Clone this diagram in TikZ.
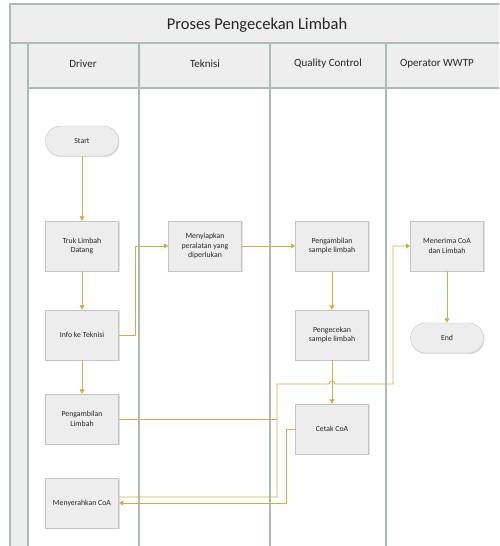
\documentclass[tikz,border=0pt]{standalone}
\usepackage{fontspec}
\setmainfont{Carlito}
\usetikzlibrary{arrows.meta,shadows}
\definecolor{laneline}{HTML}{AEB8B8}
\definecolor{lanefill}{HTML}{EEEEEE}
\definecolor{flowline}{HTML}{CFAE4B}
\definecolor{boxfill}{HTML}{EDEDED}
\definecolor{boxline}{HTML}{C4C4C4}

\begin{document}
\begin{tikzpicture}[x=1pt,y=-1pt,
	proc/.style={draw=boxline,fill=boxfill,minimum width=73pt,minimum height=50pt,inner sep=2pt,
		align=center,font=\fontsize{7.8}{9.5}\selectfont,text=black!85,
		drop shadow={shadow xshift=1pt,shadow yshift=-1.2pt,fill=black!25}},
	term/.style={proc,minimum height=30pt,rounded corners=15pt},
	flow/.style={draw=flowline,line width=0.8pt,-{Triangle[width=5pt,length=4.5pt]}},
	link/.style={draw=flowline,line width=0.8pt},
	lane/.style={draw=laneline,line width=1.1pt},
	head/.style={font=\fontsize{11}{13}\selectfont,text=black!85}]
\useasboundingbox (0,0) rectangle (499,546);
\clip (0,0) rectangle (499,546);

\fill[lanefill] (10,4) rectangle (520,88);
\fill[lanefill] (10,43) rectangle (28,560);
\draw[lane] (10,560) -- (10,4) -- (520,4);
\draw[lane] (10,43) -- (520,43);
\draw[lane] (28,88) -- (520,88);
\foreach \x in {28,139,270,386}
	\draw[lane] (\x,43) -- (\x,560);

\path (257,25) node[head,font=\fontsize{16.5}{18}\selectfont] (title) {Proses Pengecekan Limbah}
		(83,64) node[head] (driver) {Driver}
		(205,64) node[head] (teknisi) {Teknisi}
		(328,64) node[head] (qc) {Quality Control}
		(437,64) node[head] (wwtp) {Operator WWTP}
		;

\path (82,141) node[term] (start) {Start}
		(82,246) node[proc] (truk) {Truk Limbah\\Datang}
		(82,335) node[proc] (info) {Info ke Teknisi}
		(82,419) node[proc] (ambil) {Pengambilan\\Limbah}
		(82,503) node[proc] (serah) {Menyerahkan CoA}
		(205,246) node[proc] (siap) {Menyiapkan\\peralatan yang\\diperlukan}
		(332,246) node[proc] (sampel) {Pengambilan\\sample limbah}
		(332,335) node[proc] (cek) {Pengecekan\\sample limbah}
		(332,429) node[proc] (cetak) {Cetak CoA}
		(447,246) node[proc] (terima) {Menerima CoA\\dan Limbah}
		(447,338) node[term] (end) {End}
		;

\coordinate (k1) at (277,384);
\coordinate (k2) at (393,384);
\coordinate (j1) at (277,419);

\draw[flow] (start) -- (truk);
\draw[flow] (truk) -- (info);
\draw[flow] (info) -- (ambil);
\draw[flow] (info.east) -- ++(17,0) |- (siap.west);
\draw[flow] (siap) -- (sampel);
\draw[flow] (sampel) -- (cek);
\draw[flow] (cek) -- (cetak);
\draw[flow] (terima) -- (end);
\draw[link] (ambil.east) -- (j1);
\draw[flow] ([yshift=6pt]serah.east) -| (k1) -- (329,384) arc[start angle=180,end angle=360,radius=3] -- (k2) |- (terima.west);
\draw[flow] (cetak.west) -- ++(-9,0) |- (serah.east);
\end{tikzpicture}
\end{document}
